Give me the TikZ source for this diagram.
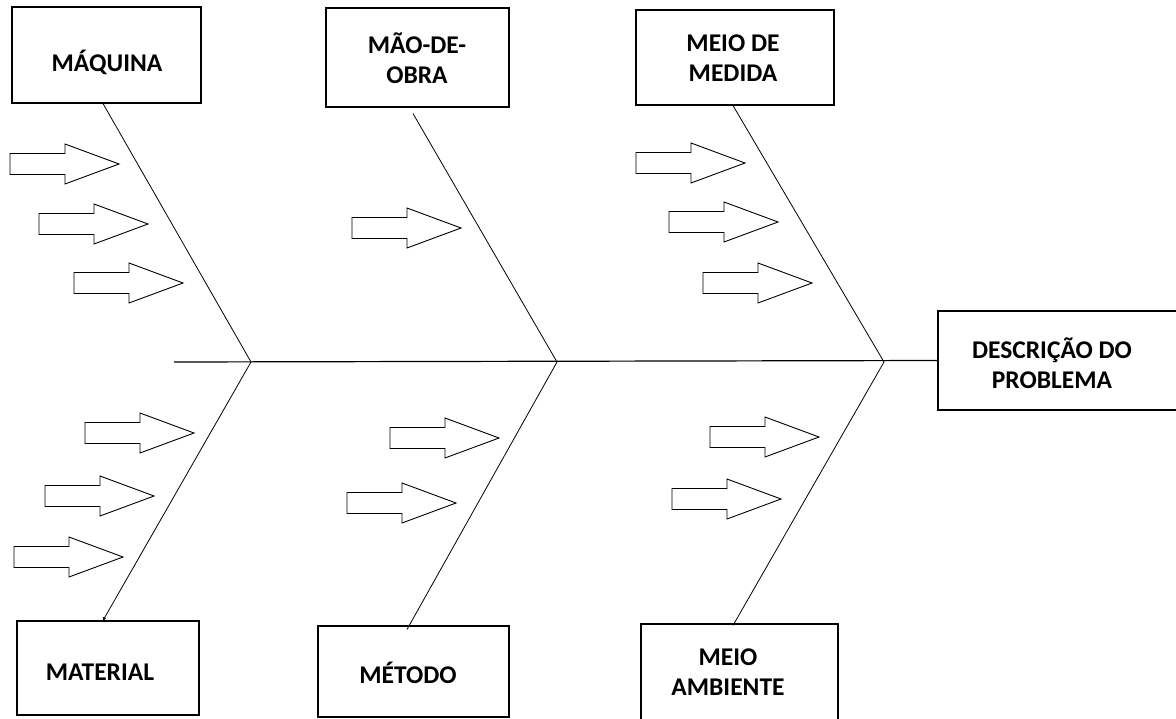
\documentclass[tikz,border=0pt]{standalone}
\usepackage{fontspec}
\setmainfont{Carlito}
\usetikzlibrary{arrows.meta}
\begin{document}
\begin{tikzpicture}[x=1pt,y=-1pt,
  box/.style={draw=black,line width=1.1pt,inner sep=0pt},
  lbl/.style={font=\fontsize{25.5}{30.5}\selectfont\bfseries,align=center,inner sep=0pt},
  bone/.style={draw=black,line width=0.8pt},
  spine/.style={draw=black,line width=1.2pt},
  blockarrow/.pic={\draw[black,line width=0.9pt,line join=miter,fill=white]
     (0,0) -- (-54,-20) -- (-54,-10.5) -- (-109,-10.5) -- (-109,10.5) -- (-54,10.5) -- (-54,20) -- cycle;}
]
\useasboundingbox (0,0) rectangle (1176,718);
\begin{scope}
\clip (0,0) rectangle (1176,718);
% boxes
\node[box,minimum width=189pt,minimum height=96pt] (maq) at (106.5,55) {};
\node[lbl] (maqt) at (107,62) {MÁQUINA};
\node[box,minimum width=183pt,minimum height=99pt] (mao) at (417.5,57.5) {};
\node[lbl] (maot) at (417,58) {MÃO-DE-\\OBRA};
\node[box,minimum width=198pt,minimum height=95pt] (med) at (735,57.5) {};
\node[lbl] (medt) at (733,58) {MEIO DE\\MEDIDA};
\node[box,minimum width=250pt,minimum height=99pt] (prob) at (1063,360.5) {};
\node[lbl] (probt) at (1052,363) {DESCRIÇÃO DO\\PROBLEMA};
\node[box,minimum width=182pt,minimum height=94pt] (mat) at (108,668) {};
\node[lbl] (matt) at (100,672) {MATERIAL};
\node[box,minimum width=191pt,minimum height=91pt] (met) at (413.5,671.5) {};
\node[lbl] (mett) at (408,673) {MÉTODO};
\node[box,minimum width=197pt,minimum height=100pt] (amb) at (739.5,674) {};
\node[lbl] (ambt) at (728,672) {MEIO\\AMBIENTE};
% spine
\coordinate (s0) at (174,362);
\coordinate (j1) at (251,362);
\coordinate (j2) at (557,362);
\coordinate (j3) at (884,362);
\draw[spine] (s0) -- (prob.west);
% bones
\draw[bone] ([xshift=-3.5pt]maq.south) -- (j1);
\draw[bone] ([xshift=-4.5pt,yshift=-6pt]mao.south) -- (j2);
\draw[bone] ([xshift=-2pt]med.south) -- (j3);
\draw[bone,-{Latex[length=3pt,width=4pt]}] (j1) -- ([xshift=-5pt]mat.north);
\draw[bone] (j2) -- ([xshift=-6.5pt,yshift=-4pt]met.north);
\draw[bone] (j3) -- ([xshift=-6.5pt,yshift=-2pt]amb.north);
% block arrows (tips)
\pic at (119,164) {blockarrow};
\pic at (148,224) {blockarrow};
\pic at (183,283) {blockarrow};
\pic at (461,228) {blockarrow};
\pic at (745,163) {blockarrow};
\pic at (778,222) {blockarrow};
\pic at (812,283) {blockarrow};
\pic at (194,433) {blockarrow};
\pic at (154,496) {blockarrow};
\pic at (123,557) {blockarrow};
\pic at (499,438) {blockarrow};
\pic at (456,503) {blockarrow};
\pic at (819,437) {blockarrow};
\pic at (781,499) {blockarrow};
\end{scope}
\end{tikzpicture}
\end{document}
